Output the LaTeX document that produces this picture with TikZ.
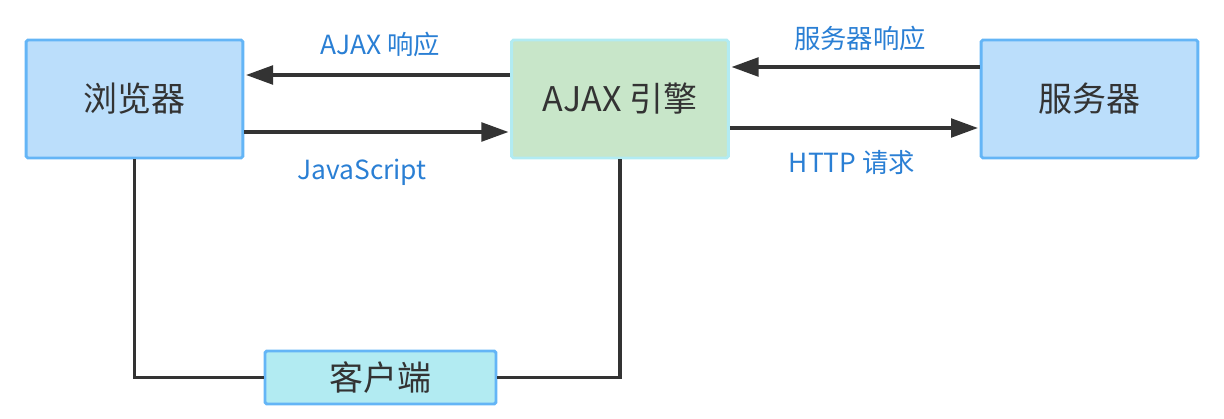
\documentclass[tikz,border=0pt]{standalone}
\usepackage{fontspec}
\setmainfont{Noto Sans CJK SC}
\usepackage{tikz}
\usetikzlibrary{arrows.meta,calc,positioning}
\usepackage{xcolor}
\definecolor{boxblue}{HTML}{BBDEFB}
\definecolor{edgeblue}{HTML}{64B5F6}
\definecolor{boxgreen}{HTML}{C8E6C9}
\definecolor{boxcyan}{HTML}{B2EBF2}
\definecolor{textdark}{HTML}{333333}
\definecolor{labelblue}{HTML}{2A7FD4}

\begin{document}
\begin{tikzpicture}[
    x=0.03cm, y=-0.03cm,
    partbox/.style={rectangle, draw=edgeblue, fill=boxblue, line width=2.5pt, rounded corners=1.5pt,
        minimum width=6.5cm, minimum height=3.54cm, inner sep=0, text=textdark, font=\fontsize{29pt}{31pt}\selectfont},
    flow/.style={line width=2.6pt, draw=textdark, -{Triangle[length=23pt,width=16pt]}, shorten >=1.5pt},
    link/.style={line width=2.6pt, draw=textdark},
    flowlabel/.style={text=labelblue, font=\fontsize{22.5pt}{24pt}\selectfont}
]
    \useasboundingbox (0,0) rectangle (1224,419);

    % Boxes
    \node[partbox] (browser) at (134.5, 99) {浏览器};
    \node[partbox, fill=boxgreen, draw=boxcyan] (engine) at (620, 99) {AJAX 引擎};
    \node[partbox] (server) at (1089.5, 99) {服务器};
    \node[partbox, fill=boxcyan, minimum width=6.93cm, minimum height=1.59cm] (client) at (380.5, 377.5) {客户端};

    % Browser <-> engine
    \draw[flow] ($(engine.west)+(0,-24)$) -- ($(browser.east)+(0,-24)$);
    \draw[flow] ($(browser.east)+(0,33)$) -- ($(engine.west)+(0,33)$);

    % Engine <-> server
    \draw[flow] ($(server.west)+(0,-32)$) -- ($(engine.east)+(0,-32)$);
    \draw[flow] ($(engine.east)+(0,29)$) -- ($(server.west)+(0,29)$);

    % Client bracket
    \draw[link] (browser.south) |- (client.west);
    \draw[link] (engine.south) |- (client.east);

    % Labels
    \node[flowlabel] (resp) at (380, 44) {AJAX 响应};
    \node[flowlabel] (js) at (362, 172) {JavaScript};
    \node[flowlabel] (sresp) at (860, 38) {服务器响应};
    \node[flowlabel] (http) at (852, 163) {HTTP 请求};
\end{tikzpicture}
\end{document}
